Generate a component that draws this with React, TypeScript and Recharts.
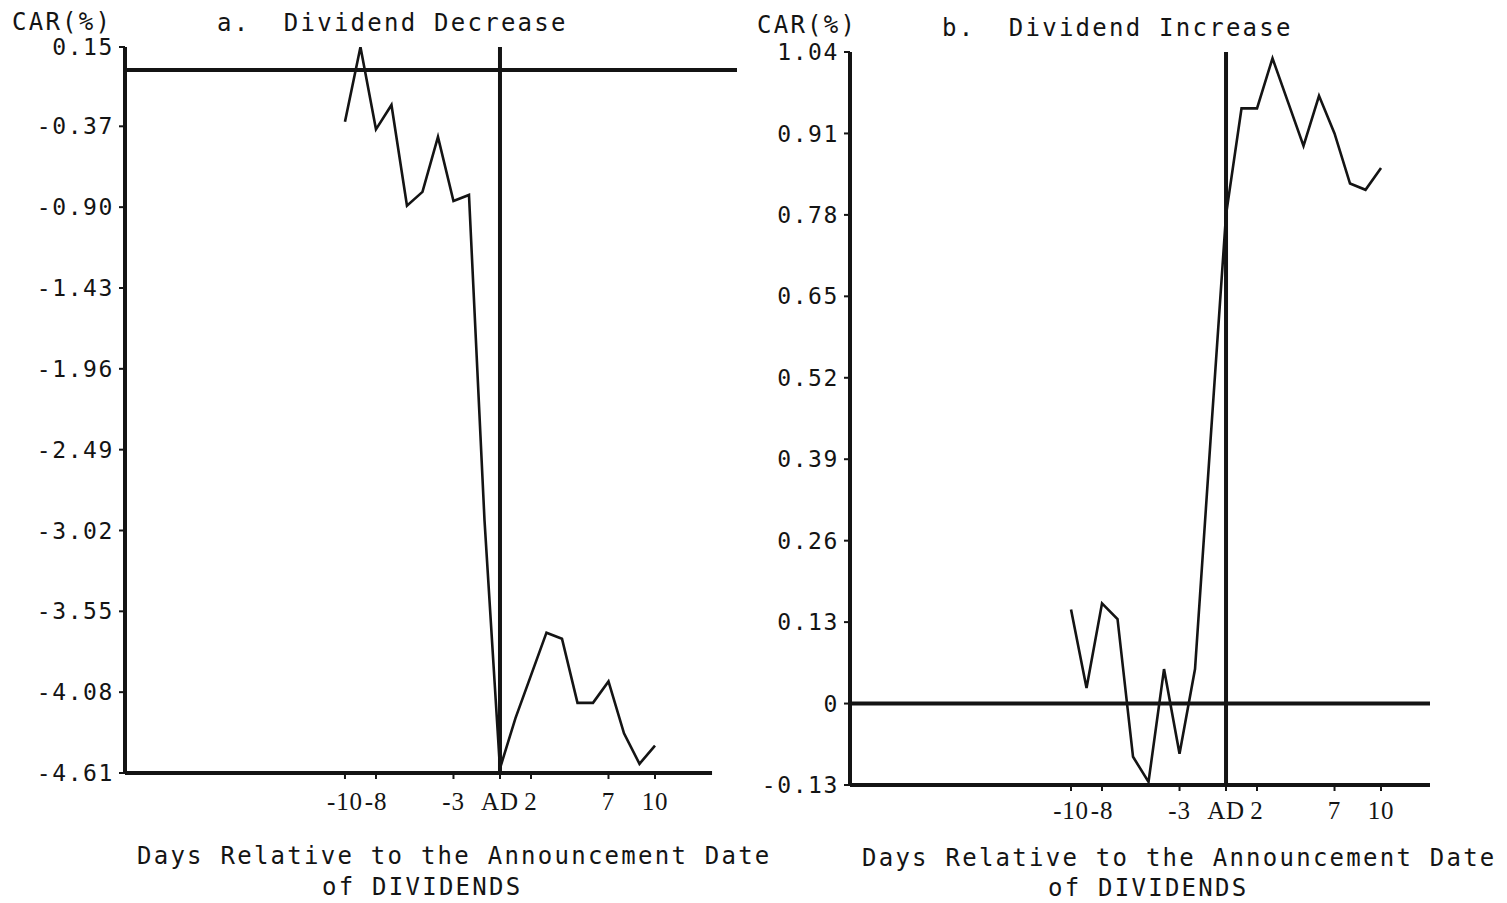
import React from 'react';
import { LineChart, Line, XAxis, YAxis, ReferenceLine } from 'recharts';

// Event days around the dividend announcement (AD = day 0)
const days = [-10, -9, -8, -7, -6, -5, -4, -3, -2, -1, 0, 1, 2, 3, 4, 5, 6, 7, 8, 9, 10];

// Cumulative abnormal returns (%)
const decreaseCar = [-0.34, 0.15, -0.39, -0.23, -0.89, -0.8, -0.44, -0.86, -0.82, -2.95, -4.58, -4.25, -3.97, -3.69, -3.73, -4.15, -4.15, -4.01, -4.35, -4.55, -4.43];
const increaseCar = [0.15, 0.025, 0.16, 0.135, -0.085, -0.125, 0.055, -0.08, 0.055, 0.42, 0.78, 0.95, 0.95, 1.03, 0.96, 0.89, 0.97, 0.91, 0.83, 0.82, 0.855];

// Axis ticks
const dayTicks = [-10, -8, -3, 0, 2, 7, 10];
const decreaseTicks = [0.15, -0.37, -0.9, -1.43, -1.96, -2.49, -3.02, -3.55, -4.08, -4.61];
const increaseTicks = [1.04, 0.91, 0.78, 0.65, 0.52, 0.39, 0.26, 0.13, 0, -0.13];

const decreaseData = days.map((day, i) => ({ day, car: decreaseCar[i] }));
const increaseData = days.map((day, i) => ({ day, car: increaseCar[i] }));

const INK = '#141414';
const MONO = '"DejaVu Sans Mono", "Liberation Mono", monospace';
const SERIF = '"Liberation Serif", "DejaVu Serif", serif';

const dayLabel = (v: number) => (v === 0 ? 'AD' : String(v));
const carLabel = (v: number) => (v === 0 ? '0' : v.toFixed(2));

const yTick = { fontSize: 23, fontFamily: MONO, fill: INK, letterSpacing: 1.6 };
const xTick = { fontSize: 25, fontFamily: SERIF, fill: INK, letterSpacing: 0.8 };

const textStyle: React.CSSProperties = {
  fontFamily: MONO,
  fontSize: 24,
  letterSpacing: 2.25,
  fill: INK,
  whiteSpace: 'pre',
};

export default function App() {
  return (
    <div style={{ position: 'absolute', left: 0, top: 0, width: 1507, height: 903, background: '#fff' }}>
      {/* a. Dividend Decrease */}
      <div style={{ position: 'absolute', left: 0, top: 0 }}>
        <LineChart width={750} height={903} data={decreaseData} margin={{ top: 47, right: 13, bottom: 0, left: 0 }}>
          <XAxis
            dataKey="day"
            type="number"
            domain={[-24.19, 15.29]}
            allowDataOverflow
            ticks={dayTicks}
            interval={0}
            height={130}
            axisLine={false}
            tickLine={{ stroke: INK, strokeWidth: 2 }}
            tickSize={6}
            tickMargin={13}
            tick={xTick}
            tickFormatter={dayLabel}
          />
          <YAxis
            type="number"
            domain={[-4.61, 0.15]}
            allowDataOverflow
            ticks={decreaseTicks}
            interval={0}
            width={125}
            axisLine={{ stroke: INK, strokeWidth: 4 }}
            tickLine={{ stroke: INK, strokeWidth: 2 }}
            tickSize={6}
            tickMargin={5}
            tick={yTick}
            tickFormatter={carLabel}
          />
          <ReferenceLine y={0} stroke={INK} strokeWidth={4} />
          <ReferenceLine x={0} stroke={INK} strokeWidth={4} />
          <ReferenceLine
            segment={[{ x: -24.19, y: -4.61 }, { x: 13.68, y: -4.61 }]}
            stroke={INK}
            strokeWidth={4}
          />
          <Line type="linear" dataKey="car" stroke={INK} strokeWidth={2.6} dot={false} isAnimationActive={false} />
        </LineChart>
      </div>

      {/* b. Dividend Increase */}
      <div style={{ position: 'absolute', left: 750, top: 0 }}>
        <LineChart width={757} height={903} data={increaseData} margin={{ top: 52, right: 77, bottom: 0, left: 0 }}>
          <XAxis
            dataKey="day"
            type="number"
            domain={[-24.26, 13.16]}
            allowDataOverflow
            ticks={dayTicks}
            interval={0}
            height={118}
            axisLine={{ stroke: INK, strokeWidth: 4 }}
            tickLine={{ stroke: INK, strokeWidth: 2 }}
            tickSize={6}
            tickMargin={10}
            tick={xTick}
            tickFormatter={dayLabel}
          />
          <YAxis
            type="number"
            domain={[-0.13, 1.04]}
            allowDataOverflow
            ticks={increaseTicks}
            interval={0}
            width={100}
            axisLine={{ stroke: INK, strokeWidth: 4 }}
            tickLine={{ stroke: INK, strokeWidth: 2 }}
            tickSize={6}
            tickMargin={5}
            tick={yTick}
            tickFormatter={carLabel}
          />
          <ReferenceLine y={0} stroke={INK} strokeWidth={4} />
          <ReferenceLine x={0} stroke={INK} strokeWidth={4} />
          <Line type="linear" dataKey="car" stroke={INK} strokeWidth={2.6} dot={false} isAnimationActive={false} />
        </LineChart>
      </div>

      {/* Titles and axis captions */}
      <svg
        width={1507}
        height={903}
        style={{ position: 'absolute', left: 0, top: 0, pointerEvents: 'none' }}
      >
        <text x={12} y={30} style={textStyle}>CAR(%)</text>
        <text x={217} y={31} style={textStyle}>{'a.  Dividend Decrease'}</text>
        <text x={137} y={864} style={textStyle}>Days Relative to the Announcement Date</text>
        <text x={322} y={895} style={textStyle}>of DIVIDENDS</text>

        <text x={757} y={33} style={textStyle}>CAR(%)</text>
        <text x={942} y={36} style={textStyle}>{'b.  Dividend Increase'}</text>
        <text x={862} y={866} style={textStyle}>Days Relative to the Announcement Date</text>
        <text x={1048} y={896} style={textStyle}>of DIVIDENDS</text>
      </svg>
    </div>
  );
}
